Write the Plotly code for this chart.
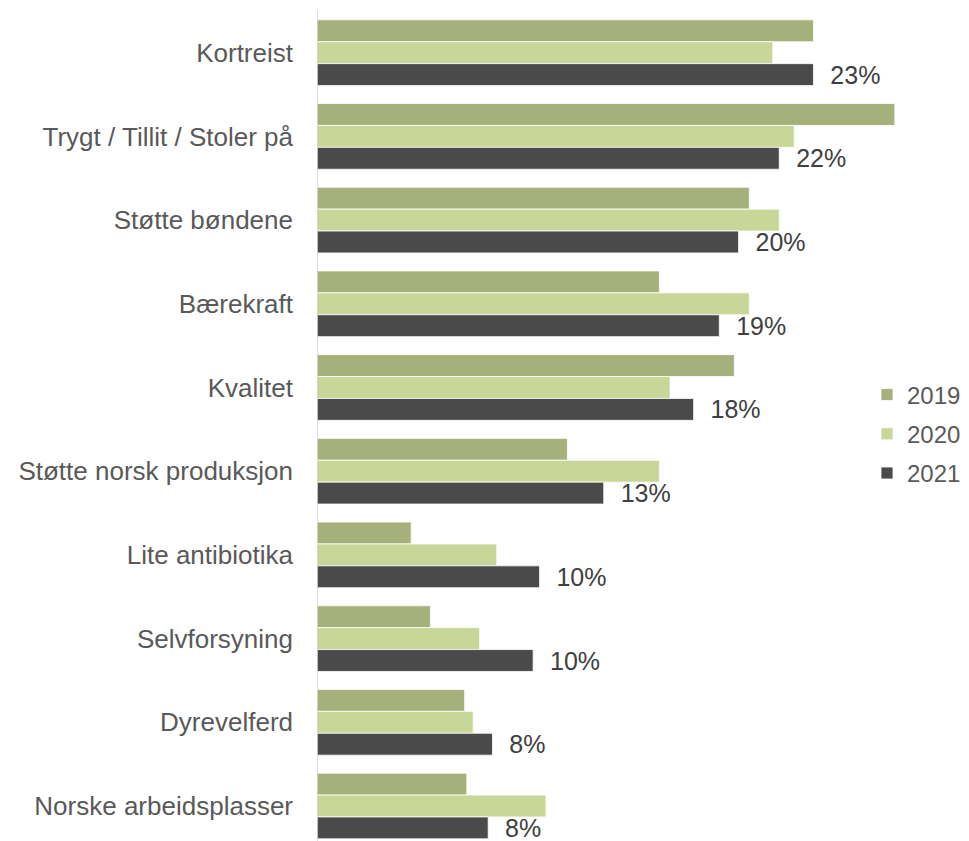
import plotly.graph_objects as go

categories = [
    "Kortreist",
    "Trygt / Tillit / Stoler på",
    "Støtte bøndene",
    "Bærekraft",
    "Kvalitet",
    "Støtte norsk produksjon",
    "Lite antibiotika",
    "Selvforsyning",
    "Dyrevelferd",
    "Norske arbeidsplasser",
]
series_names = ["2019", "2020", "2021"]
values_2019 = [23.2, 27.0, 20.2, 16.0, 19.5, 11.7, 4.4, 5.3, 6.9, 7.0]
values_2020 = [21.3, 22.3, 21.6, 20.2, 16.5, 16.0, 8.4, 7.6, 7.3, 10.7]
values_2021 = [23.2, 21.6, 19.7, 18.8, 17.6, 13.4, 10.4, 10.1, 8.2, 8.0]
labels_2021 = ["23%", "22%", "20%", "19%", "18%", "13%", "10%", "10%", "8%", "8%"]

colors = ["#a5b07b", "#c8d698", "#4a4a4a"]
FONT = "Arial, Liberation Sans, sans-serif"

fig = go.Figure()
fig.add_trace(go.Bar(y=categories, x=values_2019, name=series_names[0], orientation="h",
                     legendgroup="a",
                     marker=dict(color=colors[0], line=dict(color="white", width=0.8))))
fig.add_trace(go.Bar(y=categories, x=values_2020, name=series_names[1], orientation="h",
                     legendgroup="b",
                     marker=dict(color=colors[1], line=dict(color="white", width=0.8))))
fig.add_trace(go.Bar(y=categories, x=values_2021, name=series_names[2], orientation="h",
                     legendgroup="c",
                     marker=dict(color=colors[2], line=dict(color="white", width=0.8)),
                     text=labels_2021, texttemplate="\u00a0\u00a0%{text}",
                     textposition="outside", constraintext="none", cliponaxis=False,
                     textfont=dict(family=FONT, size=25, color="#404040")))

OFF = 8  # page body margin
px_per_pct = 21.4
width, height = 969 - OFF, 841 - OFF
left = 317 - OFF
cat_px = 83.7
c0 = 52.7 - OFF
y_top = -c0 / cat_px
y_bot = y_top + height / cat_px

fig.update_layout(
    width=width, height=height,
    margin=dict(l=left, r=0, t=0, b=0),
    paper_bgcolor="white", plot_bgcolor="white",
    barmode="group", bargap=0.215, bargroupgap=0,
    font=dict(family=FONT, color="#595959"),
    xaxis=dict(range=[0, (width - left) / px_per_pct], visible=False),
    yaxis=dict(type="category", categoryorder="array", categoryarray=categories,
               range=[y_bot, y_top], showgrid=False, zeroline=False, showline=False,
               ticks="", ticklabelstandoff=23,
               tickfont=dict(family=FONT, size=26, color="#595959")),
    legend=dict(x=(867 - OFF - left) / (width - left), xanchor="left",
                y=1 - (434 - OFF) / height, yanchor="middle",
                font=dict(family=FONT, size=24, color="#595959"),
                bgcolor="rgba(0,0,0,0)", itemwidth=30, tracegroupgap=5),
    shapes=[dict(type="line", xref="x", yref="y", x0=0, x1=0, y0=-0.5, y1=y_bot,
                 line=dict(color="#d0d0d0", width=1.5), layer="above")],
)

fig.write_html("out.html")
